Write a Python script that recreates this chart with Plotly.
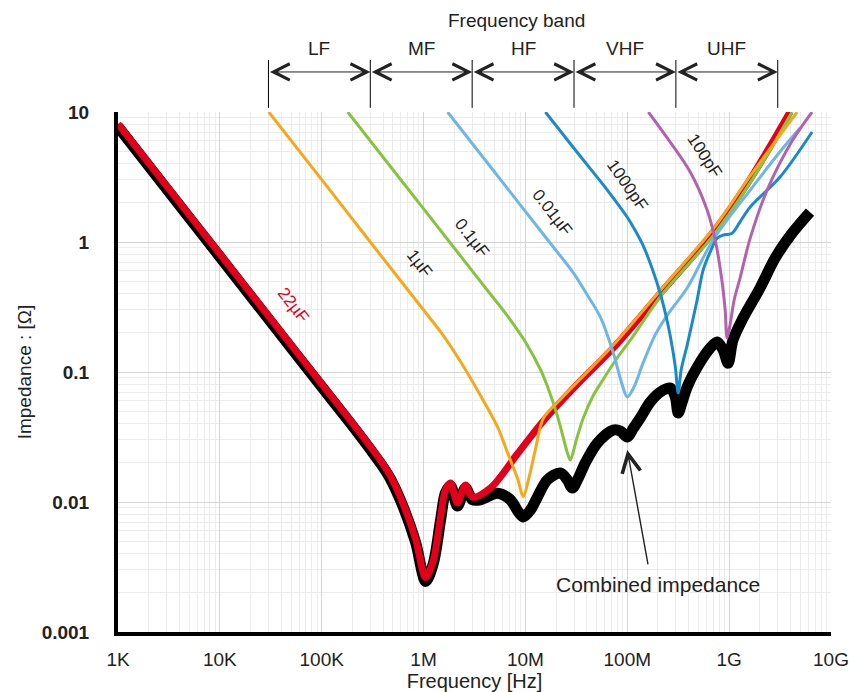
import math
import plotly.graph_objects as go

# ---------------- data ----------------
# 22 uF
f_22u = [1.0e3, 3.0e3, 1.0e4, 3.0e4, 1.0e5, 1.92e5, 3.02e5, 4.0e5, 4.74e5, 6.37e5,
         8.35e5, 1.05e6, 1.25e6, 1.47e6, 1.64e6, 1.84e6, 2.15e6, 2.58e6, 3.02e6, 4.54e6,
         8.36e6, 1.50e7, 3.46e7, 7.29e7, 2.25e8, 6.97e8, 1.61e9, 3.96e9]
z_22u = [8.1, 2.7, 0.81, 0.27, 0.081, 0.0423, 0.0266, 0.0196, 0.0158, 0.00950,
         0.0052, 0.00262, 0.00358, 0.00767, 0.0124, 0.0140, 0.00983, 0.0135, 0.0109, 0.0128,
         0.0235, 0.042, 0.085, 0.153, 0.427, 1.19, 3.05, 10.0]

# 1 uF
f_1u = [3.02e4, 1.0e5, 3.0e5, 1.0e6, 1.57e6, 2.31e6, 3.62e6, 5.31e6, 6.66e6, 8.36e6,
        9.55e6, 1.07e7, 1.25e7, 1.50e7, 2.20e7, 3.46e7, 7.29e7, 2.25e8, 6.97e8, 1.61e9,
        4.64e9]
z_1u = [10.0, 3.02, 1.0, 0.30, 0.19, 0.12, 0.066, 0.038, 0.024, 0.0152,
        0.0110, 0.0148, 0.0251, 0.044, 0.0615, 0.0885, 0.161, 0.451, 1.26, 3.22,
        10.0]

# 0.1 uF
f_100n = [1.80e5, 6.0e5, 1.8e6, 4.5e6, 6.66e6, 1.0e7, 1.40e7, 1.64e7, 2.06e7, 2.36e7,
          2.6e7, 2.76e7, 3.16e7, 3.70e7, 4.54e7, 5.82e7, 7.62e7, 1.12e8, 2.25e8, 6.97e8,
          1.61e9, 4.15e9]
z_100n = [10.0, 3.0, 1.0, 0.40, 0.27, 0.17, 0.105, 0.078, 0.046, 0.031,
          0.0235, 0.021, 0.030, 0.0443, 0.064, 0.088, 0.122, 0.185, 0.405, 1.12,
          2.86, 10.0]

# 0.01 uF
f_10n = [1.72e6, 5.0e6, 9.55e6, 2.0e7, 2.96e7, 4.05e7, 5.43e7, 7.29e7, 8.93e7, 1.0e8,
         1.15e8, 1.44e8, 1.88e8, 2.47e8, 3.87e8, 6.97e8, 1.61e9, 3.38e9, 4.97e9]
z_10n = [10.0, 3.44, 1.8, 0.86, 0.578, 0.391, 0.265, 0.140, 0.0794, 0.0643,
         0.0753, 0.119, 0.193, 0.274, 0.443, 1.04, 2.51, 5.28, 7.53]

# 1000 pF
f_1n = [1.57e7, 3.09e7, 6.37e7, 1.0e8, 1.2e8, 1.44e8, 1.80e8, 2.11e8, 2.4e8, 2.64e8,
        2.96e8, 3.16e8, 3.38e8, 3.87e8, 4.85e8, 5.56e8, 6.52e8, 7.62e8, 8.73e8, 1.07e9,
        1.28e9, 1.61e9, 3.16e9, 6.52e9]
z_1n = [10.0, 5.1, 2.51, 1.55, 1.22, 0.93, 0.59, 0.40, 0.27, 0.19,
        0.11, 0.0689, 0.104, 0.161, 0.358, 0.61, 0.838, 1.07, 1.13, 1.17,
        1.43, 1.86, 3.16, 7.02]

# 100 pF
f_100p = [1.61e8, 2.64e8, 4.15e8, 6.08e8, 7.29e8, 8.35e8, 9.14e8, 9.55e8, 1.02e9, 1.12e9,
          1.28e9, 1.61e9, 2.36e9, 4.15e9, 6.52e9]
z_100p = [10.0, 5.87, 3.45, 1.76, 1.04, 0.557, 0.30, 0.183, 0.230, 0.358,
          0.528, 1.07, 2.51, 5.98, 10.0]

# Combined impedance
f_comb = [1.0e3, 3.0e3, 1.0e4, 3.0e4, 1.0e5, 1.92e5, 3.02e5, 4.0e5, 4.74e5, 6.37e5,
          8.35e5, 1.05e6, 1.25e6, 1.47e6, 1.64e6, 1.84e6, 2.15e6, 2.58e6, 3.02e6, 3.62e6,
          5.31e6, 7.13e6, 8.53e6, 9.55e6, 1.12e7, 1.31e7, 1.64e7, 2.20e7, 2.58e7, 2.89e7,
          3.31e7, 3.87e7, 5.08e7, 7.29e7, 8.53e7, 1.0e8, 1.15e8, 1.34e8, 1.68e8, 2.11e8,
          2.64e8, 2.96e8, 3.16e8, 3.46e8, 3.87e8, 5.20e8, 6.52e8, 7.62e8, 8.73e8, 9.77e8,
          1.09e9, 1.37e9, 2.01e9, 2.83e9, 4.15e9, 6.22e9]
z_comb = [7.7, 2.56, 0.77, 0.256, 0.077, 0.0402, 0.0252, 0.0186, 0.0150, 0.0090,
          0.0049, 0.00245, 0.0034, 0.0073, 0.0118, 0.0133, 0.0093, 0.0128, 0.0104, 0.0104,
          0.0117, 0.0104, 0.00838, 0.00767, 0.00867, 0.0109, 0.0148, 0.0167, 0.0148, 0.0128,
          0.0153, 0.020, 0.0284, 0.0358, 0.0352, 0.0316, 0.0371, 0.0443, 0.0588, 0.0702,
          0.0753, 0.0643, 0.0484, 0.0588, 0.0767, 0.119, 0.153, 0.170, 0.148, 0.117,
          0.176, 0.260, 0.443, 0.753, 1.17, 1.70]

# Frequency bands
band_edges = [3e4, 3e5, 3e6, 3e7, 3e8, 3e9]
band_names = ["LF", "MF", "HF", "VHF", "UHF"]

# Axis ticks
x_tickvals = [1e3, 1e4, 1e5, 1e6, 1e7, 1e8, 1e9, 1e10]
x_ticktext = ["1K", "10K", "100K", "1M", "10M", "100M", "1G", "10G"]
y_tickvals = [0.001, 0.01, 0.1, 1, 10]
y_ticktext = ["0.001", "0.01", "0.1", "1", "10"]

# Curve labels: (text, x freq, y impedance, angle, color)
curve_labels = [
    ("22µF", 5.31e4, 0.327, 52, "#e2001a"),
    ("1µF", 9.14e5, 0.689, 52, "#222222"),
    ("0.1µF", 3.02e6, 1.07, 52, "#222222"),
    ("0.01µF", 1.84e7, 1.70, 52, "#222222"),
    ("1000pF", 1.0e8, 2.70, 55, "#222222"),
    ("100pF", 5.69e8, 4.59, 57, "#222222"),
]

# ---------------- figure ----------------
RED = "#e2001a"
ORANGE = "#f5a81c"
GREEN = "#86c440"
LBLUE = "#6db6e6"
DBLUE = "#1b8ac6"
MAGENTA = "#b362ad"

fig = go.Figure()

def add_line(fx, zy, color, width, name):
    fig.add_trace(go.Scatter(
        x=fx, y=zy, mode="lines", name=name,
        line=dict(color=color, width=width, shape="spline", smoothing=0.9),
        hoverinfo="skip"))

add_line(f_comb, z_comb, "black", 11, "Combined")
add_line(f_22u, z_22u, RED, 7, "22µF")
add_line(f_100n, z_100n, GREEN, 3, "0.1µF")
add_line(f_1u, z_1u, ORANGE, 3, "1µF")
add_line(f_10n, z_10n, LBLUE, 3, "0.01µF")
add_line(f_1n, z_1n, DBLUE, 3, "1000pF")
add_line(f_100p, z_100p, MAGENTA, 3, "100pF")

annotations = []
for text, fx, zy, ang, col in curve_labels:
    annotations.append(dict(x=math.log10(fx), y=math.log10(zy), xref="x", yref="y",
                            xanchor="center", yanchor="middle",
                            text=text, showarrow=False, textangle=ang,
                            font=dict(size=17, color=col)))

# combined impedance arrow + text
annotations.append(dict(x=8.0, y=-1.60, xref="x", yref="y",
                        ax=8.206, ay=-2.492, axref="x", ayref="y",
                        text="", showarrow=True, arrowhead=5, arrowsize=2.6,
                        arrowwidth=1.4, arrowcolor="#222222"))
annotations.append(dict(x=8.304, y=-2.638, xref="x", yref="y",
                        xanchor="center", yanchor="middle",
                        text="Combined impedance", showarrow=False,
                        font=dict(size=21, color="#222222")))

# frequency band annotations
shapes = []
for e in band_edges:
    shapes.append(dict(type="line", xref="x", yref="paper", x0=e, x1=e,
                       y0=1.008, y1=1.10, line=dict(color="black", width=1)))
for i, name in enumerate(band_names):
    lo, hi = band_edges[i], band_edges[i + 1]
    annotations.append(dict(x=math.log10(hi), y=1.077, xref="x", yref="paper",
                            ax=math.log10(lo), ay=0, axref="x", ayref="pixel",
                            text="", showarrow=True, arrowside="end+start",
                            arrowhead=5, startarrowhead=5, arrowsize=3.2,
                            startarrowsize=3.2, arrowwidth=1, arrowcolor="#222222"))
    annotations.append(dict(x=(math.log10(lo) + math.log10(hi)) / 2, y=1.123,
                            xref="x", yref="paper", xanchor="center", yanchor="middle",
                            text=name, showarrow=False,
                            font=dict(size=19, color="#222222")))
annotations.append(dict(x=0.559, y=1.176, xref="paper", yref="paper",
                        xanchor="center", yanchor="middle",
                        text="Frequency band", showarrow=False,
                        font=dict(size=19, color="#222222")))

minor_x = [k * 10 ** n for n in range(3, 10) for k in range(2, 10)]
minor_y = [k * 10 ** n for n in range(-3, 1) for k in range(2, 10)]

# the page body adds an 8 px offset; margins compensate for it
fig.update_layout(
    width=860, height=692,
    margin=dict(l=110, r=37, t=104, b=68, autoexpand=False),
    paper_bgcolor="white", plot_bgcolor="white",
    showlegend=False,
    font=dict(family="Arial, Liberation Sans, sans-serif", color="#222222", size=18),
    annotations=annotations, shapes=shapes,
)
fig.update_xaxes(
    type="log", range=[3, 10], tickmode="array", tickvals=x_tickvals, ticktext=x_ticktext,
    automargin=False,
    showgrid=True, gridcolor="#d4d4d4", gridwidth=1,
    minor=dict(tickmode="array", tickvals=minor_x, showgrid=True, gridcolor="#ececec", ticks=""),
    showline=True, linecolor="black", linewidth=4, zeroline=False,
    ticks="outside", ticklen=7, tickcolor="rgba(0,0,0,0)",
    tickfont=dict(size=19, color="#222222"),
    title=dict(text="Frequency [Hz]", font=dict(size=20, color="#222222"), standoff=0),
)
fig.update_yaxes(
    type="log", range=[-3, 1], tickmode="array", tickvals=y_tickvals,
    ticktext=["<b>%s</b>" % t for t in y_ticktext],
    automargin=False,
    showgrid=True, gridcolor="#d4d4d4", gridwidth=1,
    minor=dict(tickmode="array", tickvals=minor_y, showgrid=True, gridcolor="#ececec", ticks=""),
    showline=True, linecolor="black", linewidth=4, zeroline=False,
    ticks="outside", ticklen=21, tickcolor="rgba(0,0,0,0)",
    tickfont=dict(size=19, color="#222222"),
    title=dict(text="Impedance : [Ω]", font=dict(size=19, color="#222222"), standoff=6),
)

fig.write_html("out.html")
